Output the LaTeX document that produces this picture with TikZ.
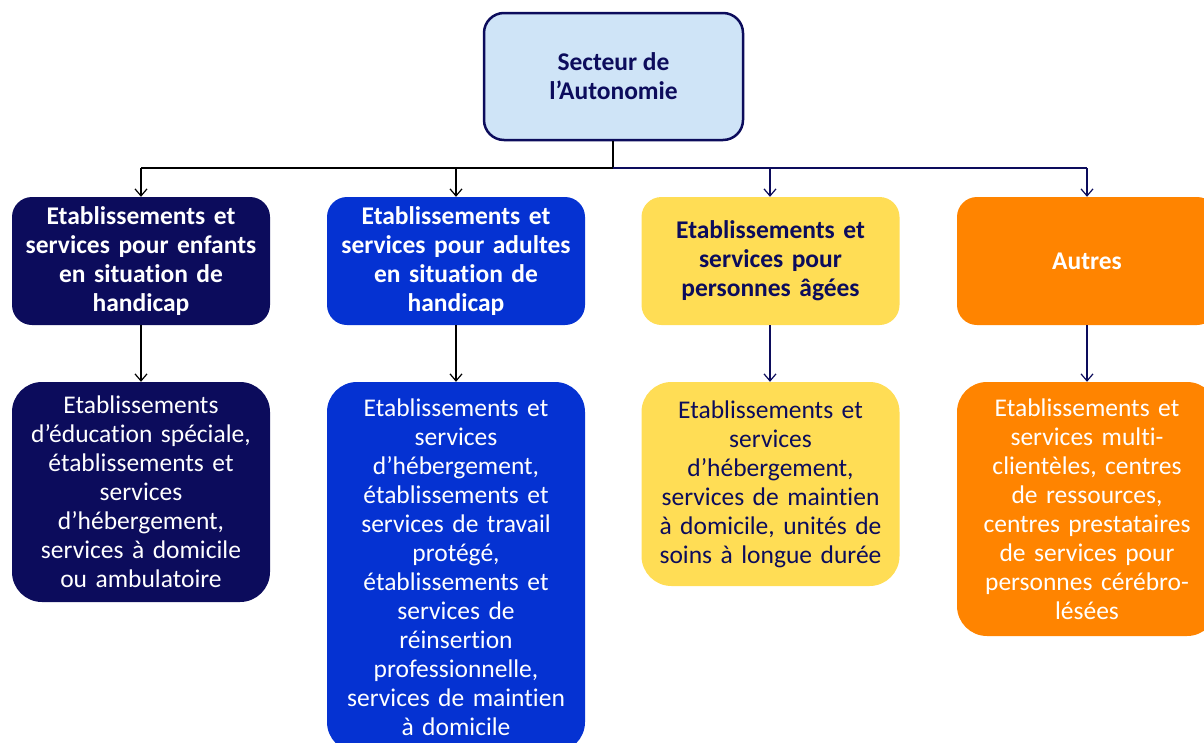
\documentclass[tikz,border=0pt]{standalone}
\usepackage{fontspec}
\setmainfont{Carlito}[Ligatures=NoCommon]
\usetikzlibrary{arrows.meta}
\definecolor{navy}{RGB}{12,12,92}
\definecolor{bleu}{RGB}{5,50,210}
\definecolor{jaune}{RGB}{255,221,85}
\definecolor{orange}{RGB}{255,132,0}
\definecolor{ciel}{RGB}{207,228,247}
\tikzset{
  head/.style={rounded corners=20pt, minimum width=258pt, minimum height=128pt, inner sep=0pt, text width=256pt, align=center, font=\fontsize{25.5}{29}\selectfont\bfseries},
  detail/.style={rounded corners=30pt, minimum width=258pt, inner sep=0pt, text width=256pt, align=center, font=\fontsize{25.5}{29}\selectfont},
  link/.style={line width=1.2pt, -{Straight Barb[length=7pt,width=12pt,line width=1.2pt]}},
}
\begin{document}
\begin{tikzpicture}[x=1pt,y=-1pt]
\useasboundingbox (0,0) rectangle (1204,742);
\begin{scope}
\clip (0,0) rectangle (1204,742);
\node[draw=navy, line width=2.5pt, fill=ciel, rounded corners=20pt, minimum width=259pt, minimum height=127pt, inner sep=0pt, align=center, text=navy, font=\fontsize{25.5}{29}\selectfont\bfseries] (top) at (613.5,76.5) {Secteur de\\l’Autonomie};

\node[head, fill=navy, text=white] (h1) at (141,261) {Etablissements et\\services pour enfants\\en situation de\\handicap};
\node[head, fill=bleu, text=white] (h2) at (456,261) {Etablissements et\\services pour adultes\\en situation de\\handicap};
\node[head, fill=jaune, text=navy] (h3) at (770.5,261) {Etablissements et\\services pour\\personnes âgées};
\node[head, fill=orange, text=white, minimum width=260pt] (h4) at (1087,261) {Autres};

\node[detail, fill=navy, text=white, minimum height=220pt] (d1) at (141,492) {Etablissements\\d’éducation spéciale,\\établissements et\\services\\d’hébergement,\\services à domicile\\ou ambulatoire};
\node[detail, fill=bleu, text=white, minimum height=370pt] (d2) at (456,567) {Etablissements et\\services\\d’hébergement,\\établissements et\\services de travail\\protégé,\\établissements et\\services de\\réinsertion\\professionnelle,\\services de maintien\\à domicile};
\node[detail, fill=jaune, text=navy, minimum height=204pt] (d3) at (770.5,484) {Etablissements et\\services\\d’hébergement,\\services de maintien\\à domicile, unités de\\soins à longue durée};
\node[detail, fill=orange, text=white, minimum height=254pt, minimum width=260pt] (d4) at (1087,509) {Etablissements et\\services multi-\\clientèles, centres\\de ressources,\\centres prestataires\\de services pour\\personnes cérébro-\\lésées};
\end{scope}

\coordinate (j) at (613,168);
\coordinate (j1) at (141,168);
\coordinate (j2) at (456,168);
\coordinate (j3) at (770,168);
\coordinate (j4) at (1087,168);
\draw[line width=1.2pt] (top.south -| j) -- (j);
\draw[line width=1.2pt] (j) -- (j1);
\draw[line width=1.2pt, navy] (j) -- (j4);
\draw[link] (j1) -- (h1.north -| j1);
\draw[link] (j2) -- (h2.north -| j2);
\draw[link, navy] (j3) -- (h3.north -| j3);
\draw[link, navy] (j4) -- (h4.north -| j4);

\draw[link] (h1.south -| j1) -- (d1.north -| j1);
\draw[link] (h2.south -| j2) -- (d2.north -| j2);
\draw[link, navy] (h3.south -| j3) -- (d3.north -| j3);
\draw[link, navy] (h4.south -| j4) -- (d4.north -| j4);
\end{tikzpicture}
\end{document}
